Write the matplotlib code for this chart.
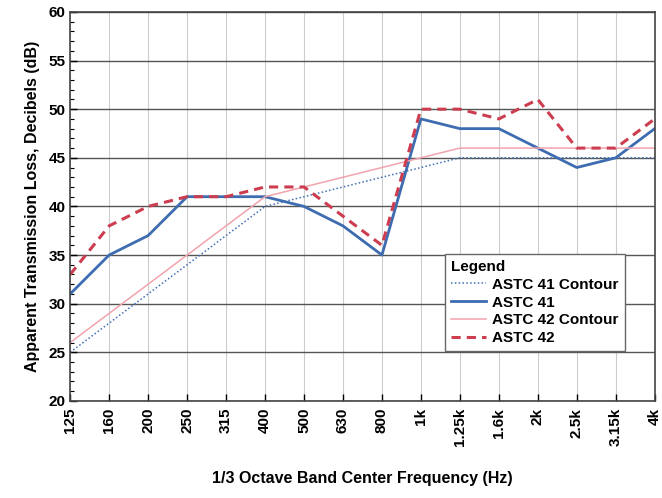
import matplotlib
matplotlib.use("Agg")
import matplotlib.pyplot as plt
from matplotlib.ticker import MultipleLocator

plt.rcParams["font.family"] = ["Liberation Sans", "DejaVu Sans"]

# === DATA ===
freqs = ["125", "160", "200", "250", "315", "400", "500", "630", "800",
         "1k", "1.25k", "1.6k", "2k", "2.5k", "3.15k", "4k"]
astc41_contour = [25, 28, 31, 34, 37, 40, 41, 42, 43, 44, 45, 45, 45, 45, 45, 45]
astc41 = [31, 35, 37, 41, 41, 41, 40, 38, 35, 49, 48, 48, 46, 44, 45, 48]
astc42_contour = [26, 29, 32, 35, 38, 41, 42, 43, 44, 45, 46, 46, 46, 46, 46, 46]
astc42 = [33, 38, 40, 41, 41, 42, 42, 39, 36, 50, 50, 49, 51, 46, 46, 49]

x = list(range(len(freqs)))

fig = plt.figure(figsize=(6.62, 4.98), dpi=100, facecolor="white")
ax = fig.add_axes([0.106, 0.195, 0.883, 0.781])

ax.plot(x, astc41_contour, color="#3f6fb5", linestyle=(0, (1, 1.5)), lw=1.1,
        label="ASTC 41 Contour")
ax.plot(x, astc41, color="#3d6cb0", lw=2.0, label="ASTC 41")
ax.plot(x, astc42_contour, color="#f2a3ad", lw=1.1, label="ASTC 42 Contour")
ax.plot(x, astc42, color="#cc3d4f", lw=2.2, linestyle=(0, (3, 2)),
        label="ASTC 42")

ax.set_xlim(0, len(freqs) - 1)
ax.set_ylim(20, 60)
ax.set_xticks(x)
ax.set_xticklabels(freqs, rotation=90, fontsize=11, fontweight="bold")
ax.yaxis.set_major_locator(MultipleLocator(5))
ax.yaxis.set_minor_locator(MultipleLocator(1))
for label in ax.get_yticklabels():
    label.set_fontweight("bold")
ax.tick_params(axis="y", labelsize=11, direction="in", length=5, width=1)
ax.tick_params(axis="y", which="minor", direction="in", length=3, width=0.8)
ax.tick_params(axis="x", direction="in", length=5, width=1, pad=5)

# Grid: dark horizontal, light vertical
ax.yaxis.grid(True, which="major", color="#555555", lw=1.0)
ax.xaxis.grid(True, color="#cccccc", lw=0.8)
ax.set_axisbelow(True)
for sp in ax.spines.values():
    sp.set_color("#444444")
    sp.set_linewidth(1.2)

ax.set_ylabel("Apparent Transmission Loss, Decibels (dB)", fontsize=11.5,
              fontweight="bold", labelpad=6)
ax.set_xlabel("1/3 Octave Band Center Frequency (Hz)", fontsize=11.5,
              fontweight="bold", labelpad=18)

leg = ax.legend(loc="upper left", bbox_to_anchor=(0.641, 0.378),
                title="Legend", fontsize=11, frameon=True, fancybox=False,
                edgecolor="#666666", framealpha=1, borderpad=0.4,
                handlelength=2.3, handletextpad=0.4, labelspacing=0.25,
                alignment="left", borderaxespad=0)
leg.get_title().set_fontweight("bold")
leg.get_title().set_fontsize(11)
leg.get_frame().set_linewidth(1.0)
for text in leg.get_texts():
    text.set_fontweight("bold")

plt.savefig("out.png", dpi=100)
